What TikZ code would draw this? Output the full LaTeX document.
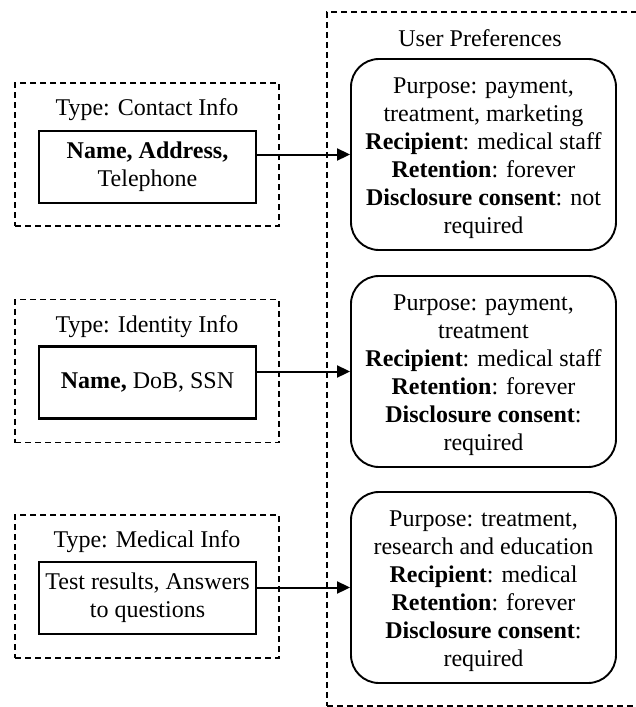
\documentclass[tikz,border=0pt]{standalone}
\usepackage{fontspec}
\setmainfont{Liberation Serif}
\usetikzlibrary{arrows.meta}
\begin{document}
\begin{tikzpicture}[x=1pt,y=-1pt,
  txt/.style={font=\fontsize{24}{28}\selectfont, align=center, inner sep=0pt},
  dsh/.style={draw, dash pattern=on 6pt off 4pt, line width=1.7pt},
  grp/.style={dsh, minimum width=264pt, minimum height=143pt, inner sep=0pt},
  item/.style={txt, draw, line width=2.2pt, minimum width=217pt, minimum height=72pt},
  pref/.style={draw, line width=1.9pt, rounded corners=28pt, minimum width=265pt, minimum height=191pt, inner sep=0pt},
  conn/.style={-{Triangle[length=13pt,width=12pt]}, line width=2pt}]
\useasboundingbox (0,0) rectangle (636,707);
\clip (0,0) rectangle (636,707);
\node[dsh, minimum width=323pt, minimum height=694pt, inner sep=0pt] (prefs) at (488.5,359) {};
\node[txt] (up) at (480,38) {User Preferences};
\node[pref] (p1) at (483.5,154.5) {};
\node[txt] (p1t) at ([yshift=-4pt]p1.center) {Purpose: payment,\\treatment, marketing\\\textbf{Recipient}: medical staff\\\textbf{Retention}: forever\\\textbf{Disclosure consent}: not\\required};
\node[pref] (p2) at (483.5,371.5) {};
\node[txt] (p2t) at ([yshift=-4pt]p2.center) {Purpose: payment,\\treatment\\\textbf{Recipient}: medical staff\\\textbf{Retention}: forever\\\textbf{Disclosure consent}:\\required};
\node[pref] (p3) at (483.5,587.5) {};
\node[txt] (p3t) at ([yshift=-4pt]p3.center) {Purpose: treatment,\\research and education\\\textbf{Recipient}: medical\\\textbf{Retention}: forever\\\textbf{Disclosure consent}:\\required};
\node[grp] (g1) at (147,154.5) {};
\node[txt] (t1) at (147,110) {Type: Contact Info};
\node[item] (r1) at (147.5,167) {\textbf{Name, Address,}\\Telephone};
\node[grp] (g2) at (147,371) {};
\node[txt] (t2) at (147,327) {Type: Identity Info};
\node[item] (r2) at (147.5,382.5) {\textbf{Name,} DoB, SSN};
\node[grp] (g3) at (147,586.5) {};
\node[txt] (t3) at (147,542) {Type: Medical Info};
\node[item] (r3) at (147.5,598) {Test results, Answers\\to questions};
\draw[conn] (r1.east |- p1.west) -- (p1.west);
\draw[conn] (r2.east |- p2.west) -- (p2.west);
\draw[conn] (r3.east |- p3.west) -- (p3.west);
\end{tikzpicture}
\end{document}
